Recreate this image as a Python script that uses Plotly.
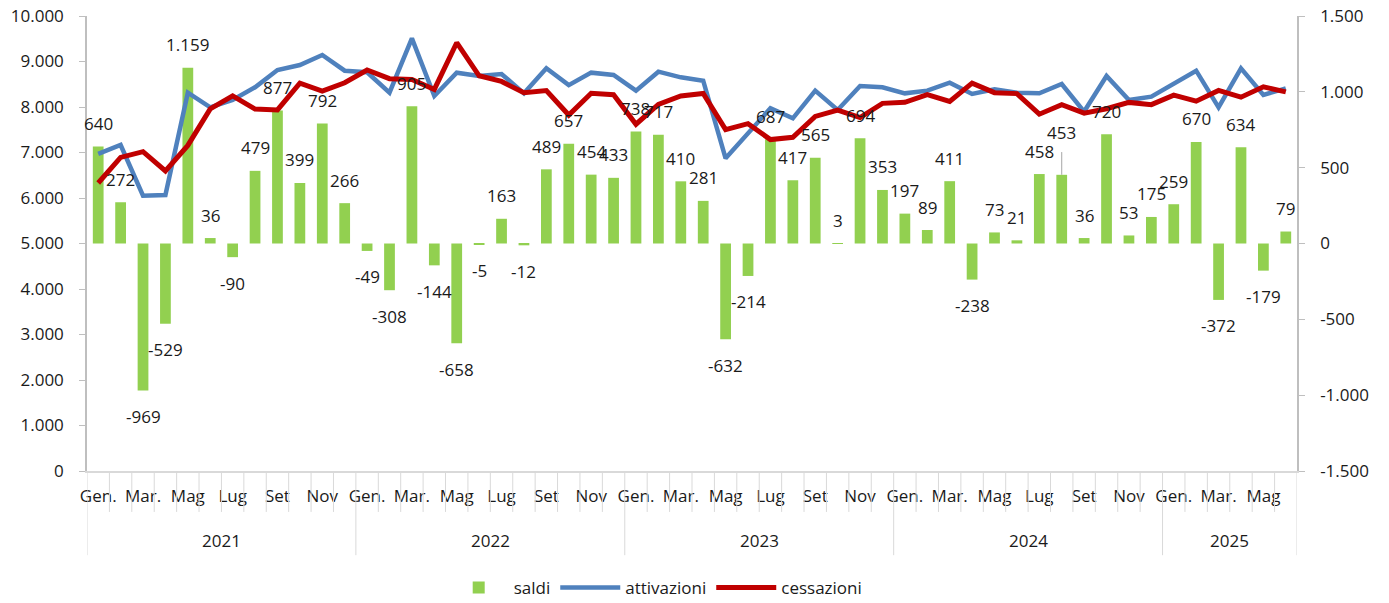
import plotly.graph_objects as go

months_labels = ["Gen.", "Mar.", "Mag", "Lug", "Set", "Nov"]
years = ["2021", "2022", "2023", "2024", "2025"]
months_per_year = [12, 12, 12, 12, 6]
left_ticks = [0, 1000, 2000, 3000, 4000, 5000, 6000, 7000, 8000, 9000, 10000]
right_ticks = [-1500, -1000, -500, 0, 500, 1000, 1500]

saldi = [640, 272, -969, -529, 1159, 36, -90, 479, 877, 399, 792, 266,
         -49, -308, 905, -144, -658, -5, 163, -12, 489, 657, 454, 433,
         738, 717, 410, 281, -632, -214, 687, 417, 565, 3, 694, 353,
         197, 89, 411, -238, 73, 21, 458, 453, 36, 720, 53, 175,
         259, 670, -372, 634, -179, 79]

attivazioni = [6970, 7165, 6050, 6066, 8315, 7993, 8154, 8433, 8813, 8923, 9143, 8798,
               8764, 8315, 9508, 8242, 8755, 8681, 8725, 8300, 8850, 8480, 8755, 8703,
               8359, 8776, 8652, 8579, 6871, 7421, 7971, 7751, 8359, 7934, 8462, 8433,
               8300, 8359, 8535, 8286, 8388, 8315, 8300, 8505, 7900, 8681, 8154, 8227,
               8520, 8798, 7993, 8850, 8264, 8411]

cessazioni = [6330, 6893, 7019, 6595, 7156, 7957, 8244, 7954, 7936, 8524, 8351, 8532,
              8813, 8623, 8603, 8386, 9413, 8686, 8562, 8312, 8361, 7823, 8301, 8270,
              7621, 8059, 8242, 8298, 7503, 7635, 7284, 7334, 7794, 7931, 7768, 8080,
              8103, 8270, 8124, 8524, 8315, 8294, 7842, 8052, 7864, 7961, 8101, 8052,
              8261, 8128, 8365, 8216, 8443, 8332]


def fmt(v):
    return f"{v:,}".replace(",", ".")


n = len(saldi)
xs = list(range(n))
FONT = "Open Sans"
TXT = "#1a1a1a"
AX = "#bfbfbf"
FS = 17

fig = go.Figure()
fig.add_trace(go.Bar(x=xs, y=saldi, name="saldi", marker_color="#92D050",
                     marker_line_width=0, yaxis="y", width=0.48))
fig.add_trace(go.Scatter(x=xs, y=attivazioni, name="attivazioni", mode="lines",
                         line=dict(color="#4F81BD", width=4.5), yaxis="y2"))
fig.add_trace(go.Scatter(x=xs, y=cessazioni, name="cessazioni", mode="lines",
                         line=dict(color="#C00000", width=5), yaxis="y2"))

annotations = []
for i, v in enumerate(saldi):
    shift = 23 if v >= 0 else -26
    if v == 453:
        shift = 42
    annotations.append(dict(x=i, y=v, xref="x", yref="y", text=fmt(v), showarrow=False,
                             yshift=shift, font=dict(family=FONT, size=FS, color=TXT)))

shapes = []
idx453 = saldi.index(453)
shapes.append(dict(type="line", xref="x", yref="y", x0=idx453, x1=idx453,
                   y0=453, y1=453 + 150, line=dict(color="#a6a6a6", width=1)))

year_bounds = [0]
for m in months_per_year:
    year_bounds.append(year_bounds[-1] + m)
for k in range(n + 1):
    long = k in year_bounds
    shapes.append(dict(type="line", xref="x", yref="paper", x0=k - 0.5, x1=k - 0.5,
                       y0=0, y1=-0.185 if long else -0.09,
                       line=dict(color="#d9d9d9", width=1)))
for j, yr in enumerate(years):
    mid = (year_bounds[j] + year_bounds[j + 1] - 1) / 2
    annotations.append(dict(x=mid, y=-0.152, xref="x", yref="paper", text=yr,
                            yanchor="middle", showarrow=False,
                            font=dict(family=FONT, size=FS, color=TXT)))

tickvals = list(range(0, n, 2))
ticktext = [months_labels[(i % 12) // 2] for i in tickvals]

fig.update_layout(
    width=1389, height=603,
    margin=dict(l=87, r=92, t=16, b=132, autoexpand=False),
    paper_bgcolor="white", plot_bgcolor="white",
    separators=",.",
    font=dict(family=FONT, size=FS, color=TXT),
    bargap=0.52,
    showlegend=True,
    legend=dict(orientation="h", x=0.47, xanchor="center", y=-0.257, yanchor="middle",
                font=dict(family=FONT, size=FS, color=TXT), itemwidth=60,
                traceorder="normal"),
    xaxis=dict(range=[-0.5, n - 0.5], tickvals=tickvals, ticktext=ticktext,
               showline=True, linecolor="#d9d9d9", linewidth=1.5, ticks="",
               showgrid=False, zeroline=False, ticklabelstandoff=9, automargin=False,
               tickfont=dict(family=FONT, size=FS, color=TXT)),
    yaxis=dict(range=[-1500, 1500], tickvals=right_ticks,
               ticktext=[fmt(v) for v in right_ticks], side="right",
               showline=True, linecolor=AX, linewidth=1.5, ticks="outside",
               ticklen=6, tickcolor=AX, showgrid=False, zeroline=False, automargin=False,
               ticklabeloverflow="allow",
               ticklabelstandoff=12, tickfont=dict(family=FONT, size=FS, color=TXT)),
    yaxis2=dict(range=[0, 10000], tickvals=left_ticks,
                ticktext=[fmt(v) for v in left_ticks], side="left", overlaying="y",
                showline=True, linecolor=AX, linewidth=1.5, automargin=False,
                ticks="outside", ticklen=6, tickcolor=AX, showgrid=False,
                zeroline=False, ticklabelstandoff=12, ticklabeloverflow="allow",
                tickfont=dict(family=FONT, size=FS, color=TXT)),
    annotations=annotations,
    shapes=shapes,
)

fig.write_html("out.html", config={"displayModeBar": False},
               post_script="document.body.style.margin='0';document.body.style.overflow='hidden';")
